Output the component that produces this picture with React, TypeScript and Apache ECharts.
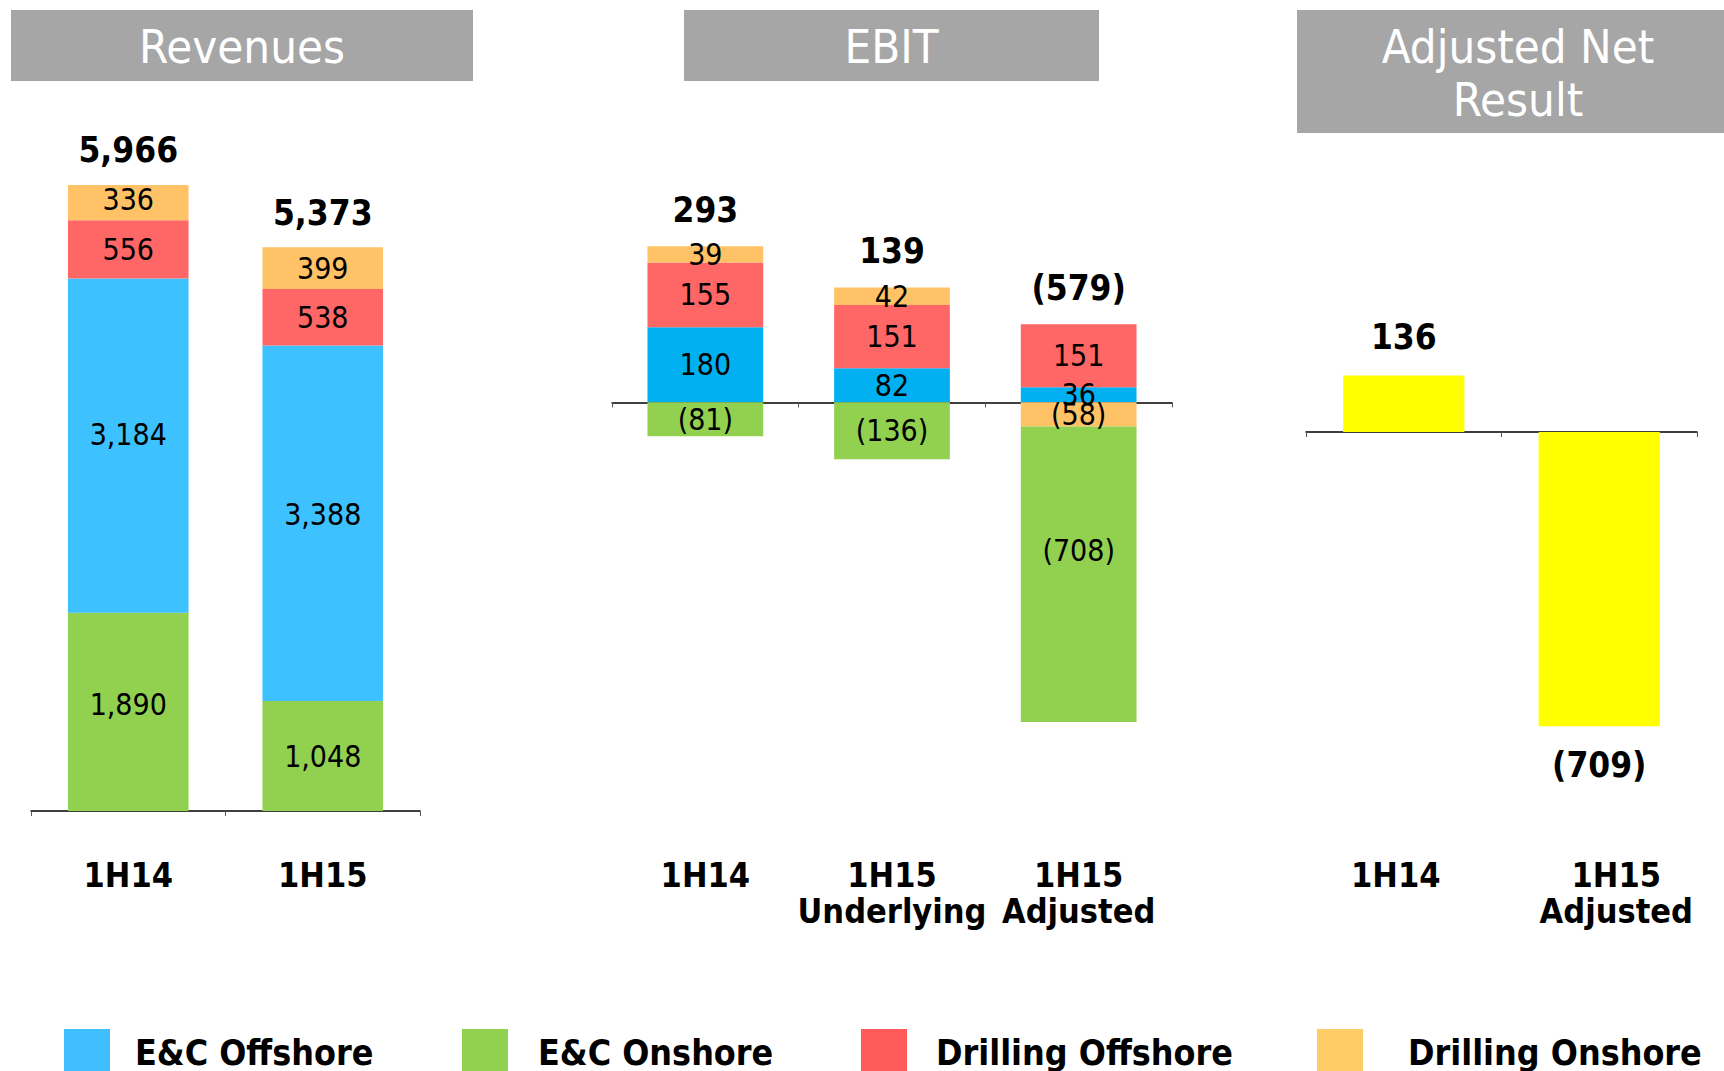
import React, { useEffect, useRef } from "react";
import * as echarts from "echarts";

// ---- data ----
const revCategories = ["1H14", "1H15"];
const revEcOnshore = [1890, 1048];
const revEcOffshore = [3184, 3388];
const revDrillingOffshore = [556, 538];
const revDrillingOnshore = [336, 399];

const ebitCategories = ["1H14", "1H15\nUnderlying", "1H15\nAdjusted"];
const ebitEcOffshore = [180, 82, 36];
const ebitDrillingOffshore = [155, 151, 151];
const ebitDrillingOnshore = [39, 42, -58];
const ebitEcOnshore = [-81, -136, -708];

const netCategories = ["1H14", "1H15\nAdjusted"];
const netResult = [136, -709];

const legendNames = ["E&C Offshore", "E&C Onshore", "Drilling Offshore", "Drilling Onshore"];
const panelTitles = ["Revenues", "EBIT", "Adjusted Net\nResult"];

// ---- styles ----
const FONT = '"DejaVu Sans Condensed", "DejaVu Sans", sans-serif';
const C_BLUE_REV = "#3DC1FF";
const C_BLUE_EBIT = "#00B0F0";
const C_GREEN = "#92D050";
const C_RED = "#FF6666";
const C_ORANGE = "#FFC266";
const C_YELLOW = "#FFFF00";
const legendColors: Record<string, string> = {
  "E&C Offshore": "#3FBFFF",
  "E&C Onshore": "#92D050",
  "Drilling Offshore": "#FF5B5B",
  "Drilling Onshore": "#FFCC66",
};
// legend layout (square left edge, gap between square and text)
const legendLayout = [
  { left: 64, gap: 25 },
  { left: 462, gap: 30 },
  { left: 861, gap: 29 },
  { left: 1317, gap: 45 },
];

const fmt = (v: number) =>
  v < 0 ? `(${Math.abs(v).toLocaleString("en-US")})` : v.toLocaleString("en-US");

const sumAll = (arrs: number[][], i: number) => arrs.reduce((s, a) => s + a[i], 0);
const sumPos = (arrs: number[][], i: number) => arrs.reduce((s, a) => s + Math.max(0, a[i]), 0);

export default function App() {
  const ref = useRef<HTMLDivElement>(null);
  useEffect(() => {
    if (!ref.current) return;
    const chart = echarts.init(ref.current, undefined, { renderer: "svg" });

    const revParts = [revEcOnshore, revEcOffshore, revDrillingOffshore, revDrillingOnshore];
    const ebitParts = [ebitEcOffshore, ebitDrillingOffshore, ebitDrillingOnshore, ebitEcOnshore];

    const innerLabel = {
      show: true,
      position: "inside",
      color: "#000",
      fontFamily: FONT,
      fontSize: 30,
      formatter: (p: any) => fmt(p.value),
    };
    // label vertical nudges (label styling only) to follow the original placement
    const withOffsets = (vals: number[], offs: number[]) =>
      vals.map((v, i) => (offs[i] ? { value: v, label: { offset: [0, offs[i]] } } : v));

    const totalLabelStyle = {
      color: "#000",
      opacity: 1,
      fontFamily: FONT,
      fontSize: 35,
      fontWeight: "bold",
      lineHeight: 36,
    };

    const baseAxis = (gridIndex: number, data: string[]) => ({
      type: "category",
      gridIndex,
      data,
      axisLine: { show: true, onZero: true, lineStyle: { color: "#000", width: 1.5 } },
      axisTick: { show: true, length: 5, lineStyle: { color: "#555", width: 1 } },
      axisLabel: { show: false },
      splitLine: { show: false },
    });
    const labelAxis = (gridIndex: number, data: any[], margin: number) => ({
      type: "category",
      gridIndex,
      data,
      position: "bottom",
      axisLine: { show: false, onZero: false },
      axisTick: { show: false },
      axisLabel: {
        show: true,
        interval: 0,
        margin,
        color: "#000",
        fontFamily: FONT,
        fontSize: 34,
        fontWeight: "bold",
        lineHeight: 36,
        verticalAlign: "top",
      },
      splitLine: { show: false },
    });
    const valueAxis = (gridIndex: number, min: number, max: number) => ({
      type: "value",
      gridIndex,
      min,
      max,
      show: false,
      splitLine: { show: false },
    });

    const titleGraphics = [
      { x: 11, y: 10, w: 462, h: 71, cx: 242, cy: 46, t: panelTitles[0] },
      { x: 684, y: 10, w: 415, h: 71, cx: 891.5, cy: 46, t: panelTitles[1] },
      { x: 1297, y: 10, w: 440, h: 123, cx: 1518, cy: 72.5, t: panelTitles[2] },
    ].flatMap((b) => [
      { type: "rect", shape: { x: b.x, y: b.y, width: b.w, height: b.h }, style: { fill: "#A6A6A6" }, silent: true },
      {
        type: "text",
        x: b.cx,
        y: b.cy,
        style: {
          text: b.t,
          fill: "#fff",
          font: `47px ${FONT}`,
          lineHeight: 53,
          align: "center",
          verticalAlign: "middle",
          textAlign: "center",
          textVerticalAlign: "middle",
        },
        silent: true,
      },
    ]);

    const netLabelPads = [
      [0, 16, 0, 0],
      [0, 0, 0, 34],
    ];

    const totalsSeries = (name: string, xAxisIndex: number, yAxisIndex: number, cats: string[], parts: number[][], distance: number) => ({
      name,
      type: "scatter",
      xAxisIndex,
      yAxisIndex,
      symbol: "rect",
      symbolSize: 1,
      itemStyle: { color: "rgba(255,255,255,0)", opacity: 1 },
      data: cats.map((_, i) => [i, sumPos(parts, i)]),
      label: {
        show: true,
        position: "top",
        distance,
        ...totalLabelStyle,
        formatter: (p: any) => fmt(sumAll(parts, p.dataIndex)),
      },
      z: 5,
    });

    const option: any = {
      animation: false,
      backgroundColor: "#fff",
      graphic: titleGraphics,
      legend: legendNames.map((n, i) => ({
        left: legendLayout[i].left,
        top: 1029,
        padding: 0,
        itemWidth: 46,
        itemHeight: 46,
        icon: "rect",
        selectedMode: false,
        textStyle: {
          fontFamily: FONT,
          fontSize: 35.5,
          fontWeight: "bold",
          color: "#000",
          lineHeight: 36,
          padding: [0, 0, 0, legendLayout[i].gap - 5],
        },
        data: [{ name: n, itemStyle: { color: legendColors[n] } }],
      })),
      grid: [
        { left: 31, top: 181.4, width: 389, height: 629.6 },
        { left: 612, top: 235.4, width: 560, height: 500.9 },
        { left: 1306, top: 266, width: 391, height: 498 },
      ],
      xAxis: [
        baseAxis(0, revCategories),
        labelAxis(0, revCategories, 46),
        baseAxis(1, ebitCategories),
        labelAxis(1, ebitCategories, 120.7),
        baseAxis(2, netCategories),
        labelAxis(
          2,
          netCategories.map((c, i) => ({ value: c, textStyle: { padding: netLabelPads[i] } })),
          93
        ),
      ],
      yAxis: [valueAxis(0, 0, 6000), valueAxis(1, -800, 400), valueAxis(2, -800, 400)],
      series: [
        // Revenues
        { name: "E&C Onshore", type: "bar", stack: "rev", xAxisIndex: 0, yAxisIndex: 0, barWidth: "62%", data: withOffsets(revEcOnshore, [-7, 0]), itemStyle: { color: C_GREEN }, label: innerLabel },
        { name: "E&C Offshore", type: "bar", stack: "rev", xAxisIndex: 0, yAxisIndex: 0, barWidth: "62%", data: withOffsets(revEcOffshore, [-11, -9]), itemStyle: { color: C_BLUE_REV }, label: innerLabel },
        { name: "Drilling Offshore", type: "bar", stack: "rev", xAxisIndex: 0, yAxisIndex: 0, barWidth: "62%", data: revDrillingOffshore, itemStyle: { color: C_RED }, label: innerLabel },
        { name: "Drilling Onshore", type: "bar", stack: "rev", xAxisIndex: 0, yAxisIndex: 0, barWidth: "62%", data: withOffsets(revDrillingOnshore, [-3, 0]), itemStyle: { color: C_ORANGE }, label: innerLabel },
        totalsSeries("Revenues total", 0, 0, revCategories, revParts, 16),
        // EBIT
        { name: "E&C Offshore", type: "bar", stack: "ebit", xAxisIndex: 2, yAxisIndex: 1, barWidth: "62%", data: ebitEcOffshore, itemStyle: { color: C_BLUE_EBIT }, label: innerLabel },
        { name: "Drilling Offshore", type: "bar", stack: "ebit", xAxisIndex: 2, yAxisIndex: 1, barWidth: "62%", data: ebitDrillingOffshore, itemStyle: { color: C_RED }, label: innerLabel },
        { name: "Drilling Onshore", type: "bar", stack: "ebit", xAxisIndex: 2, yAxisIndex: 1, barWidth: "62%", data: ebitDrillingOnshore, itemStyle: { color: C_ORANGE }, label: innerLabel },
        { name: "E&C Onshore", type: "bar", stack: "ebit", xAxisIndex: 2, yAxisIndex: 1, barWidth: "62%", data: withOffsets(ebitEcOnshore, [0, 0, -24]), itemStyle: { color: C_GREEN }, label: innerLabel },
        totalsSeries("EBIT total", 2, 1, ebitCategories, ebitParts, 18),
        // Adjusted Net Result
        {
          name: "Adjusted Net Result",
          type: "bar",
          xAxisIndex: 4,
          yAxisIndex: 2,
          barWidth: "62%",
          itemStyle: { color: C_YELLOW },
          data: netResult.map((v) => ({
            value: v,
            label: { position: v >= 0 ? "top" : "bottom" },
          })),
          label: { show: true, distance: 21, ...totalLabelStyle, formatter: (p: any) => fmt(p.value) },
        },
      ],
    };

    chart.setOption(option);
    return () => chart.dispose();
  }, []);

  return (
    <div
      ref={ref}
      style={{ position: "absolute", left: 0, top: 0, width: 1724, height: 1071, background: "#fff" }}
    />
  );
}
